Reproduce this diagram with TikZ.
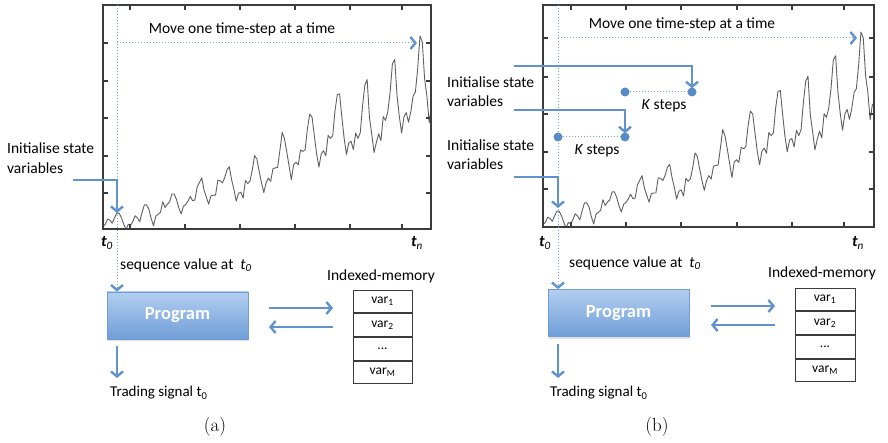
\documentclass[tikz,border=0pt]{standalone}
\usepackage{fontspec}
\newfontfamily\calfont{Carlito}
\usetikzlibrary{arrows.meta,shadows}
\definecolor{myblue}{RGB}{96,146,206}
\definecolor{dotblue}{RGB}{120,160,212}
\definecolor{dotfill}{RGB}{88,138,200}
\definecolor{boxtop}{RGB}{178,206,240}
\definecolor{boxbot}{RGB}{112,158,216}
\definecolor{boxline}{RGB}{112,156,212}
\definecolor{framegray}{RGB}{60,60,60}
\definecolor{seriesgray}{RGB}{95,95,95}
\newcommand\seriesrest{118,132,129,121,135,148,148,136,119,104,118,115,126,141,135,125,149,170,170,158,133,114,140,145,150,178,163,172,178,199,199,184,162,146,166,171,180,193,181,183,218,230,242,209,191,172,194,196,196,236,235,229,243,264,272,237,211,180,201,204,188,235,227,234,264,302,293,259,229,203,229,242,233,267,269,270,315,364,347,312,274,237,278,284,277,317,313,318,374,413,405,355,306,271,306,315,301,356,348,355,422,465,467,404,347,305,336,340,318,362,348,363,435,491,505,404,359,310,337,360,342,406,396,420,472,548,559,463,407,362,405,417,391,419,461,472,535,622,606,508,461,390,432}
\tikzset{
  txt/.style={font=\calfont\fontsize{15.5}{19.5}\selectfont, inner sep=0pt, align=left, text=black},
  tlabel/.style={font=\calfont\fontsize{16}{18}\selectfont, inner sep=0pt, text=black},
  caption/.style={font=\fontsize{19}{22}\selectfont, inner sep=0pt},
  frame/.style={draw=framegray, line width=1.2pt},
  series/.style={draw=seriesgray, line width=0.9pt, line join=round},
  vhead/.style={-{Straight Barb[length=5pt,width=12pt,line width=2.4pt,color=myblue]}},
  bluearrow/.style={draw=myblue, line width=1.6pt, vhead},
  dotline/.style={draw=dotblue, line width=1pt, dotted, vhead},
  dotplain/.style={draw=dotblue, line width=1pt, dotted},
  progbox/.style={rectangle, draw=boxline, line width=0.8pt, top color=boxtop, bottom color=boxbot,
    minimum width=141pt, minimum height=47pt, inner sep=0pt,
    drop shadow={opacity=0.25, shadow xshift=1pt, shadow yshift=-2pt},
    font=\calfont\bfseries\fontsize{18.5}{21}\selectfont, text=white},
  memcell/.style={rectangle, draw=framegray, line width=0.9pt, minimum width=59pt, minimum height=22.75pt, inner sep=0pt,
    font=\calfont\fontsize{13.5}{16}\selectfont},
  kdot/.style={circle, fill=dotfill, minimum size=9pt, inner sep=0pt}
}
\begin{document}
\begin{tikzpicture}[x=1pt,y=-1pt]
\useasboundingbox (0,0) rectangle (888,443);
% ================= panel (a) =================
\begin{scope}
  \clip (103,5) rectangle (431,229);
  \draw[series] (103,{268.4-0.3737*112}) foreach \v [count=\i] in \seriesrest { -- ({103+\i*2.297},{268.4-0.3737*\v}) };
\end{scope}
\draw[frame] (103,5) rectangle (431,229);
\foreach \x in {130,185,240,295,350,402} {\draw[frame] (\x,5) -- (\x,10); \draw[frame] (\x,229) -- (\x,224);}
\foreach \y in {43,81,118,156,193} {\draw[frame] (103,\y) -- (108,\y); \draw[frame] (431,\y) -- (426,\y);}

\node[txt] (amove) at (242,29) {Move one time-step at a time};
\node[txt, anchor=west] (ainit) at (7,158) {Initialise state\\variables};
\node[tlabel] (at0) at (107,243) {\textbf{\textit{t}}\textsubscript{\textit{0}}};
\node[tlabel] (atn) at (417,243) {\textbf{\textit{t}}\textsubscript{\textit{n}}};
\node[txt, anchor=west] (aseq) at (120,265) {sequence value at~~\textit{t}\textsubscript{\textit{0}}};
\node[progbox] (aprog) at (177.5,315.5) {Program};
\node[txt, anchor=west, font=\calfont\fontsize{15}{18}\selectfont] (asig) at (110,393) {Trading signal t\textsubscript{0}};
\node[txt] (amemlab) at (381,276) {Indexed-memory};
\node[memcell] (am1) at (382.5,301.4) {var\textsubscript{1}};
\node[memcell, anchor=north] (am2) at (am1.south) {var\textsubscript{2}};
\node[memcell, anchor=north] (am3) at (am2.south) {...};
\node[memcell, anchor=north] (am4) at (am3.south) {var\textsubscript{M}};
\node[caption] (acap) at (215,427) {(a)};

\coordinate (atop) at (117,5);
\coordinate (amvs) at (117,43);
\coordinate (amve) at (417,43);
\coordinate (ainitS) at (73,180);
\coordinate (ainitE) at (117,213);
\coordinate (asigS) at (117,346);
\coordinate (asigE) at (117,378);
\coordinate (arS) at (269,308);
\coordinate (arE) at (333,308);
\coordinate (alS) at (333,327);
\coordinate (alE) at (269,327);
\draw[dotline] (atop) -- (atop |- aprog.north);
\draw[dotline] (amvs) -- (amve);
\draw[bluearrow] (ainitS) -| (ainitE);
\draw[bluearrow] (asigS) -- (asigE);
\draw[bluearrow] (arS) -- (arE);
\draw[bluearrow] (alS) -- (alE);

% ================= panel (b) =================
\begin{scope}
  \clip (543,5) rectangle (874,227);
  \draw[series] (543,{267.1-0.378*112}) foreach \v [count=\i] in \seriesrest { -- ({543+\i*2.304},{267.1-0.378*\v}) };
\end{scope}
\draw[frame] (543,5) rectangle (874,227);
\foreach \x in {571,626,681,737,792,844} {\draw[frame] (\x,5) -- (\x,10); \draw[frame] (\x,227) -- (\x,222);}
\foreach \y in {38,77,114,152,189} {\draw[frame] (543,\y) -- (548,\y); \draw[frame] (874,\y) -- (869,\y);}

\node[txt] (bmove) at (682,24) {Move one time-step at a time};
\node[txt, anchor=west] (binit1) at (447,91.5) {Initialise state\\variables};
\node[txt, anchor=west] (binit2) at (447,154.5) {Initialise state\\variables};
\node[tlabel] (bt0) at (545,243) {\textbf{\textit{t}}\textsubscript{\textit{0}}};
\node[tlabel] (btn) at (858,243) {\textbf{\textit{t}}\textsubscript{\textit{n}}};
\node[txt, anchor=west] (bseq) at (569,263) {sequence value at~~\textit{t}\textsubscript{\textit{0}}};
\node[progbox] (bprog) at (618.5,313) {Program};
\node[txt, anchor=west, font=\calfont\fontsize{15}{18}\selectfont] (bsig) at (550,393) {Trading signal t\textsubscript{0}};
\node[txt] (bmemlab) at (822,273) {Indexed-memory};
\node[memcell, minimum width=60pt] (bm1) at (825,299.4) {var\textsubscript{1}};
\node[memcell, minimum width=60pt, anchor=north] (bm2) at (bm1.south) {var\textsubscript{2}};
\node[memcell, minimum width=60pt, anchor=north] (bm3) at (bm2.south) {...};
\node[memcell, minimum width=60pt, anchor=north] (bm4) at (bm3.south) {var\textsubscript{M}};
\node[caption] (bcap) at (657,427) {(b)};

\node[kdot] (d1a) at (625,92) {};
\node[kdot] (d1b) at (692,92) {};
\node[kdot] (d2a) at (558,137) {};
\node[kdot] (d2b) at (625,137) {};
\node[txt, anchor=center] (bk1) at (664,106) {\textit{K} steps};
\node[txt, anchor=center] (bk2) at (597,151) {\textit{K} steps};
\draw[dotplain] (d1a) -- (d1b);
\draw[dotplain] (d2a) -- (d2b);

\coordinate (btop) at (558,5);
\coordinate (bmvs) at (558,38);
\coordinate (bmve) at (857,38);
\coordinate (bi1S) at (514,66);
\coordinate (bi2S) at (514,110);
\coordinate (bi3S) at (514,177);
\coordinate (bi3E) at (558,208);
\coordinate (bsigS) at (558,344);
\coordinate (bsigE) at (558,378);
\coordinate (brS) at (711,306);
\coordinate (brE) at (775,306);
\coordinate (blS) at (775,325);
\coordinate (blE) at (711,325);
\draw[dotline] (btop) -- (btop |- bprog.north);
\draw[dotline] (bmvs) -- (bmve);
\draw[bluearrow] (bi1S) -| ([yshift=-1pt]d1b.north);
\draw[bluearrow] (bi2S) -| ([yshift=-1pt]d2b.north);
\draw[bluearrow] (bi3S) -| (bi3E);
\draw[bluearrow] (bsigS) -- (bsigE);
\draw[bluearrow] (brS) -- (brE);
\draw[bluearrow] (blS) -- (blE);
\end{tikzpicture}
\end{document}
